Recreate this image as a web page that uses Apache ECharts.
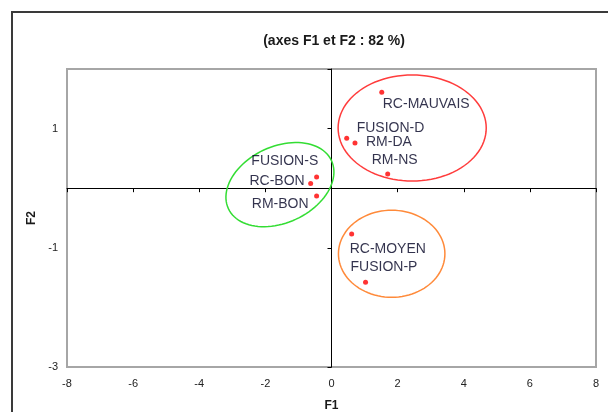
<!DOCTYPE html>
<html><head><meta charset="utf-8">
<script src="https://cdn.jsdelivr.net/npm/echarts@6/dist/echarts.min.js"></script>
<style>html,body{margin:0;padding:0;background:#fff}#c{width:608px;height:412px}</style>
</head><body><div id="c"></div>
<script>
// ---- data ----
const names = ['RC-MAUVAIS','FUSION-D','RM-DA','RM-NS','FUSION-S','RC-BON','RM-BON','RC-MOYEN','FUSION-P'];
const f1 = [1.52, 0.46, 0.71, 1.70, -0.45, -0.63, -0.45, 0.61, 1.03];
const f2 = [1.61, 0.84, 0.76, 0.24, 0.19, 0.08, -0.13, -0.77, -1.58];
const xTickLabels = [-8, -6, -4, -2, 0, 2, 4, 6, 8];
const yTickLabels = [-3, -1, 1];
// group ellipses (centre and half-axes in F1/F2 units)
const groupCenterF1 = [2.44, -1.56, 1.82];
const groupCenterF2 = [1.01, 0.06, -1.10];
const groupRadiusF1 = [2.24, 1.72, 1.61];
const groupRadiusF2 = [0.89, 0.64, 0.73];

// ---- styling / layout ----
const ellipseAngles = [0, 25, 0];
const ellipseColors = ['#ff3c3c', '#33dd33', '#ff8a3a'];
const labelLayout = [
  ['left', 1, 12], ['left', 10, -10], ['left', 11, -1], ['left', -16, -14],
  ['right', 1.6, -16], ['right', -6, -2], ['right', -8, 8],
  ['left', -2, 15], ['left', -15, -15]
];
const FONT = 'Liberation Sans, Arial, sans-serif';

const chart = echarts.init(document.getElementById('c'));
const pointData = names.map((n, i) => ({
  name: n, value: [f1[i], f2[i]],
  label: { align: labelLayout[i][0], offset: [labelLayout[i][1], labelLayout[i][2]] }
}));
const ellipseData = groupCenterF1.map((c, i) => [c, groupCenterF2[i], groupRadiusF1[i], groupRadiusF2[i]]);

const xMin = xTickLabels[0], xMax = xTickLabels[xTickLabels.length - 1];
const yMin = yTickLabels[0], yMax = 2;

chart.setOption({
  animation: false,
  backgroundColor: '#fff',
  title: {
    text: '(axes F1 et F2 : 82 %)', left: 334, top: 34, textAlign: 'center', padding: 0,
    textStyle: { fontSize: 14, fontWeight: 'bold', color: '#1a1a1a', fontFamily: FONT }
  },
  graphic: [{
    type: 'rect', shape: { x: 12, y: 12, width: 700, height: 500 },
    style: { fill: 'none', stroke: '#3a3a3a', lineWidth: 2 }, silent: true
  }],
  grid: { left: 67, right: 12, top: 69, bottom: 45, show: true, borderColor: '#a6a6a6', borderWidth: 2,
    backgroundColor: '#fff', containLabel: false, outerBoundsMode: 'none' },
  xAxis: [
    { type: 'value', min: xMin, max: xMax, interval: 2, position: 'bottom',
      axisLine: { show: false, onZero: false }, axisTick: { show: false }, splitLine: { show: false },
      axisLabel: { color: '#222', fontSize: 11, margin: 11, fontFamily: FONT },
      name: 'F1', nameLocation: 'middle', nameGap: 33,
      nameTextStyle: { fontWeight: 'bold', fontSize: 12, color: '#1a1a1a', fontFamily: FONT } },
    { type: 'value', min: xMin, max: xMax, interval: 2, position: 'bottom',
      axisLine: { show: true, onZero: true, lineStyle: { color: '#000', width: 1 } },
      axisTick: { show: true, length: 4, lineStyle: { color: '#000' } },
      axisLabel: { show: false }, splitLine: { show: false } }
  ],
  yAxis: [
    { type: 'value', min: yMin, max: yMax, interval: 2, position: 'left',
      axisLine: { show: false, onZero: false }, axisTick: { show: false }, splitLine: { show: false },
      axisLabel: { color: '#222', fontSize: 11, margin: 9, fontFamily: FONT, showMaxLabel: false },
      name: 'F2', nameLocation: 'middle', nameGap: 28,
      nameTextStyle: { fontWeight: 'bold', fontSize: 12, color: '#1a1a1a', fontFamily: FONT } },
    { type: 'value', min: yMin, max: yMax, interval: 2, position: 'left',
      axisLine: { show: true, onZero: true, lineStyle: { color: '#000', width: 1 } },
      axisTick: { show: true, length: 4, lineStyle: { color: '#000' } },
      axisLabel: { show: false }, splitLine: { show: false } }
  ],
  series: [
    { type: 'custom', coordinateSystem: 'cartesian2d', xAxisIndex: 0, yAxisIndex: 0, clip: false,
      data: ellipseData, z: 3,
      renderItem: function (params, api) {
        const c = api.coord([api.value(0), api.value(1)]);
        const s = api.size([api.value(2), api.value(3)]);
        const ang = ellipseAngles[params.dataIndex] * Math.PI / 180;
        const pts = [];
        for (let k = 0; k < 96; k++) {
          const t = k / 96 * 2 * Math.PI;
          const px = s[0] * Math.cos(t), py = s[1] * Math.sin(t);
          pts.push([c[0] + px * Math.cos(ang) + py * Math.sin(ang), c[1] - px * Math.sin(ang) + py * Math.cos(ang)]);
        }
        return { type: 'polygon', shape: { points: pts },
          style: { fill: 'none', stroke: ellipseColors[params.dataIndex], lineWidth: 1.5 } };
      } },
    { type: 'scatter', xAxisIndex: 0, yAxisIndex: 0, symbol: 'circle', symbolSize: 5, z: 5,
      itemStyle: { color: '#ff0000' },
      label: { show: true, position: 'inside', verticalAlign: 'middle', formatter: '{b}',
        fontSize: 14, color: '#000022', textBorderWidth: 0, textBorderColor: 'transparent',
        fontFamily: FONT },
      data: pointData }
  ]
});
</script></body></html>
